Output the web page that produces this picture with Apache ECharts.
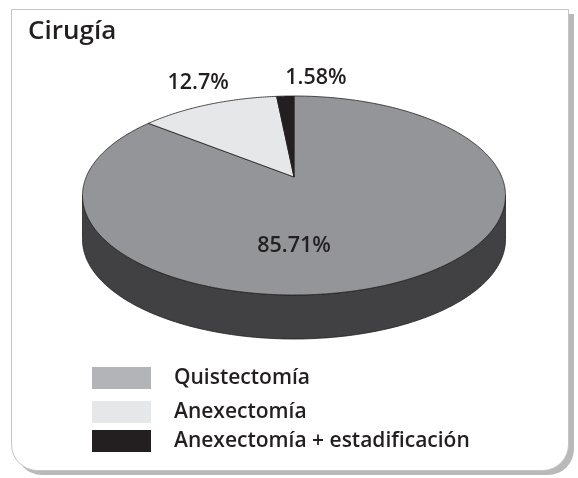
<!DOCTYPE html>
<html><head><meta charset="utf-8">
<script src="https://cdn.jsdelivr.net/npm/echarts@6/dist/echarts.min.js"></script>
<style>html,body{margin:0;padding:0;background:#fff}#c{width:578px;height:478px}</style>
</head><body><div id="c"></div>
<script>
const titleText = 'Cirugía';
const categories = ['Quistectomía', 'Anexectomía', 'Anexectomía + estadificación'];
const values = [85.71, 12.7, 1.58];
const sliceColors = ['#939598', '#e6e7e8', '#231f20'];
const legendColors = ['#b3b4b7', '#e6e7e8', '#231f20'];
const sideColor = '#414042';
const inkColor = '#231f20';

// layout (not data)
const G = { cx: 294, cy: 177, rx: 207.8, ry: 96.06, k: 0.186, depth: 44 };
const labelPolar = [[180, 0.63], [334.7, 1.32], [5.8, 1.29]];
const legendTops = [367, 401, 430];
const FW = 600;

function proj(theta, r) {
  const u = r * Math.sin(theta), v = -r * Math.cos(theta);
  const w = 1 - G.k * v;
  return [G.cx + G.rx * u / w, G.cy + G.ry * v / w];
}

function makeRender(i) {
  return function (params, api) {
    const total = values.reduce((a, b) => a + b, 0);
    let start = 0;
    for (let j = 0; j < i; j++) start += values[j];
    const val = api.value(0);
    const a0 = start / total * 2 * Math.PI;
    const a1 = (start + val) / total * 2 * Math.PI;
    const children = [];
    if (i === 0) {
      const t1 = Math.acos(-G.k), t2 = 2 * Math.PI - t1;
      const top = [], bot = [];
      const n = 200;
      for (let s = 0; s <= n; s++) {
        const p = proj(t1 + (t2 - t1) * s / n, 1);
        top.push(p);
        bot.push([p[0], p[1] + G.depth]);
      }
      children.push({ type: 'polygon', shape: { points: top.concat(bot.reverse()) },
        style: { fill: sideColor, stroke: inkColor, lineWidth: 0.8 } });
    }
    const pts = [proj(0, 0)];
    const n = Math.max(2, Math.ceil((a1 - a0) / 0.01));
    for (let s = 0; s <= n; s++) pts.push(proj(a0 + (a1 - a0) * s / n, 1));
    children.push({ type: 'polygon', shape: { points: pts },
      style: { fill: sliceColors[i], stroke: inkColor, lineWidth: 0.8, lineJoin: 'round' } });
    const lp = proj(labelPolar[i][0] * Math.PI / 180, labelPolar[i][1]);
    children.push({ type: 'text', x: lp[0], y: lp[1], z2: 10,
      style: { text: val + '%', fontFamily: 'Open Sans', fontWeight: FW, fontSize: 21.5,
        fill: inkColor, align: 'center', verticalAlign: 'middle' } });
    return { type: 'group', children: children };
  };
}

const chart = echarts.init(document.getElementById('c'), null, { renderer: 'canvas' });
chart.setOption({
  animation: false,
  backgroundColor: '#ffffff',
  graphic: [
    { type: 'rect', z: -2, shape: { x: 16, y: 14, width: 558, height: 461, r: [0, 0, 26, 26] },
      style: { fill: '#b9b9b9' } },
    { type: 'rect', z: -1, shape: { x: 11.5, y: 9.5, width: 557, height: 461, r: [0, 0, 26, 26] },
      style: { fill: '#ffffff', stroke: '#c4c4c4', lineWidth: 1 } }
  ],
  title: {
    text: titleText, left: 28, top: 19, padding: 0,
    textStyle: { fontFamily: 'Open Sans', fontWeight: FW, fontSize: 26, color: inkColor }
  },
  legend: categories.map((c, i) => ({
    data: [{ name: c, itemStyle: { color: legendColors[i] } }],
    left: 92, top: legendTops[i], padding: 0, itemGap: 0,
    itemWidth: 59, itemHeight: 22, icon: 'rect', selectedMode: false,
    textStyle: { fontFamily: 'Open Sans', fontWeight: FW, fontSize: 21, color: inkColor,
      padding: [0, 0, 0, 18] }
  })),
  series: categories.map((c, i) => ({
    type: 'custom', name: c, coordinateSystem: 'none',
    itemStyle: { color: legendColors[i] },
    renderItem: makeRender(i),
    data: [values[i]]
  }))
});
</script></body></html>
